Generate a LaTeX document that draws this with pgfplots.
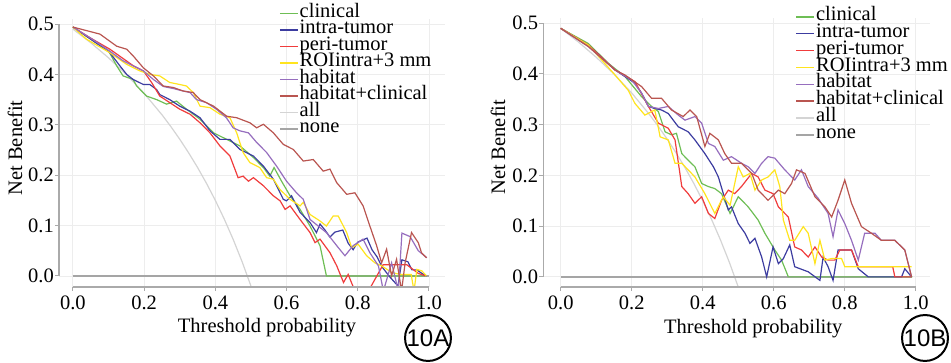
\documentclass[border=0pt]{standalone}
\usepackage{fontspec}
\setmainfont{Liberation Serif}
\setsansfont{Liberation Sans}
\usepackage{pgfplots}
\pgfplotsset{compat=1.18}
\definecolor{cClin}{RGB}{110,190,85}
\definecolor{cIntra}{RGB}{60,60,160}
\definecolor{cPeri}{RGB}{240,60,60}
\definecolor{cROI}{RGB}{255,228,30}
\definecolor{cHab}{RGB}{150,110,190}
\definecolor{cHC}{RGB}{185,85,80}
\definecolor{cAll}{RGB}{212,212,212}
\definecolor{cNone}{RGB}{165,165,165}
\definecolor{cAxis}{RGB}{170,170,170}
\newcommand{\fs}{\fontsize{20.5}{22}\selectfont}
\pgfplotsset{
  dca/.style={
    scale only axis, width=386pt, height=268pt,
    xmin=-0.039, xmax=1.045, ymin=-0.022, ymax=0.51,
    axis line style={draw=none},
    clip mode=individual,
    tick align=outside, xtick pos=bottom, ytick pos=left,
    xtick={0,0.2,0.4,0.6,0.8,1}, ytick={0,0.1,0.2,0.3,0.4,0.5},
    major tick length=4pt, tick style={draw=cAxis, line width=1pt},
    grid=major, major grid style={draw=black!7, line width=0.8pt},
    /pgf/number format/assume math mode=true,
    xticklabel={\pgfmathprintnumber[fixed,fixed zerofill,precision=1]{\tick}},
    yticklabel={\pgfmathprintnumber[fixed,fixed zerofill,precision=1]{\tick}},
    tick label style={font=\fs},
    yticklabel style={inner sep=1pt},
    xticklabel style={inner sep=1pt, yshift=-4pt},
    label style={font=\fs},
    xlabel={Threshold probability}, ylabel={Net Benefit},
    legend style={draw=none, fill=none, anchor=north west, font=\fs,
      cells={anchor=west}, row sep=0pt, column sep=1pt,
      nodes={inner sep=0pt, text height=12pt, text depth=4.5pt}},
    legend image code/.code={\draw[#1, line width=1.6pt] (0pt,0pt) -- (18pt,0pt);},
    every axis plot/.append style={line width=1.2pt},
  }
}
\begin{document}
\begin{tikzpicture}
\useasboundingbox (0,0) rectangle (951pt,363pt);
% ---------------- Panel A
\begin{axis}[dca, at={(59pt,76pt)}, anchor=south west,
  xlabel style={at={(axis description cs:0.539,-0.153)}, anchor=center},
  ylabel style={at={(axis description cs:-0.114,0.519)}, anchor=center},
  legend style={at={(0.562,1.06)}}]
\addplot[cAll, forget plot] coordinates {(0,0.49)(0.05,0.463)(0.1,0.433)(0.15,0.40)(0.2,0.3625)(0.25,0.32)(0.275,0.2966)(0.3,0.2714)(0.325,0.2444)(0.35,0.2154)(0.375,0.184)(0.4,0.15)(0.425,0.113)(0.45,0.0727)(0.475,0.0286)(0.5,-0.02)};
\addplot[cNone, line width=1.5pt, forget plot] coordinates {(0,0)(1,0)};
\addplot[cClin] coordinates {(0,0.494)(0.05,0.47)(0.1,0.447)(0.123,0.417)(0.141,0.397)(0.169,0.39)(0.179,0.377)(0.207,0.357)(0.235,0.35)(0.263,0.341)(0.291,0.347)(0.319,0.331)(0.357,0.311)(0.395,0.284)(0.432,0.271)(0.469,0.258)(0.507,0.235)(0.535,0.215)(0.553,0.198)(0.565,0.215)(0.586,0.188)(0.61,0.159)(0.638,0.132)(0.666,0.099)(0.694,0.06)(0.712,0)(0.99,0)};
\addlegendentry{clinical}
\addplot[cIntra] coordinates {(0,0.494)(0.05,0.47)(0.104,0.443)(0.132,0.417)(0.151,0.40)(0.169,0.39)(0.198,0.38)(0.216,0.38)(0.235,0.37)(0.244,0.36)(0.272,0.35)(0.3,0.337)(0.329,0.327)(0.357,0.314)(0.385,0.288)(0.413,0.271)(0.441,0.271)(0.469,0.251)(0.507,0.238)(0.535,0.218)(0.563,0.192)(0.591,0.152)(0.6,0.149)(0.614,0.159)(0.638,0.126)(0.666,0.106)(0.684,0.086)(0.694,0.103)(0.708,0.091)(0.722,0.077)(0.736,0.087)(0.758,0.091)(0.773,0.065)(0.787,0.052)(0.80,0.067)(0.826,0.075)(0.84,0.052)(0.854,0.038)(0.868,0.018)(0.89,-0.002)(0.913,-0.02)(0.924,0.032)(0.941,0.028)(0.952,0.012)(0.966,0.012)(0.98,0.005)(0.994,0)};
\addlegendentry{intra-tumor}
\addplot[cPeri] coordinates {(0,0.494)(0.05,0.472)(0.104,0.45)(0.17,0.417)(0.198,0.407)(0.221,0.384)(0.244,0.357)(0.272,0.344)(0.3,0.331)(0.329,0.321)(0.357,0.304)(0.385,0.284)(0.413,0.258)(0.441,0.238)(0.464,0.195)(0.478,0.198)(0.493,0.188)(0.507,0.195)(0.535,0.179)(0.563,0.159)(0.582,0.149)(0.596,0.132)(0.61,0.139)(0.638,0.112)(0.666,0.086)(0.68,0.066)(0.694,0.073)(0.722,0.046)(0.741,0.02)(0.76,-0.013)(0.773,0.003)(0.792,-0.03)(0.83,-0.03)(0.871,0.022)(0.938,0.022)(0.97,0.005)(0.99,0)};
\addlegendentry{peri-tumor}
\addplot[cROI] coordinates {(0,0.494)(0.038,0.47)(0.104,0.443)(0.151,0.42)(0.188,0.407)(0.216,0.40)(0.244,0.397)(0.272,0.384)(0.3,0.38)(0.319,0.377)(0.338,0.364)(0.357,0.337)(0.385,0.334)(0.413,0.321)(0.441,0.314)(0.46,0.284)(0.478,0.245)(0.497,0.225)(0.525,0.215)(0.544,0.195)(0.563,0.192)(0.581,0.172)(0.61,0.152)(0.638,0.139)(0.647,0.146)(0.666,0.122)(0.694,0.109)(0.712,0.099)(0.731,0.119)(0.745,0.119)(0.769,0.086)(0.783,0.056)(0.801,0.063)(0.825,0.04)(0.848,0.026)(0.867,0.02)(0.895,0.007)(0.918,0.003)(0.95,0.003)(0.958,-0.03)(0.966,0.013)(0.98,0.01)(0.993,0)};
\addlegendentry{ROIintra+3 mm}
\addplot[cHab] coordinates {(0,0.494)(0.05,0.472)(0.104,0.446)(0.141,0.427)(0.169,0.417)(0.198,0.407)(0.226,0.39)(0.254,0.376)(0.282,0.372)(0.31,0.367)(0.329,0.364)(0.347,0.35)(0.375,0.344)(0.403,0.331)(0.431,0.314)(0.45,0.294)(0.469,0.288)(0.493,0.284)(0.516,0.265)(0.544,0.245)(0.572,0.218)(0.6,0.188)(0.628,0.165)(0.647,0.152)(0.666,0.112)(0.689,0.099)(0.712,0.086)(0.741,0.06)(0.764,0.04)(0.787,0.06)(0.815,0.073)(0.834,0.046)(0.858,0.02)(0.872,-0.03)(0.895,0.026)(0.914,-0.03)(0.924,0.085)(0.947,0.078)(0.97,0.05)(0.994,0.036)};
\addlegendentry{habitat}
\addplot[cHC] coordinates {(0,0.494)(0.076,0.48)(0.123,0.456)(0.151,0.45)(0.169,0.437)(0.198,0.413)(0.226,0.397)(0.254,0.377)(0.282,0.374)(0.31,0.367)(0.338,0.364)(0.357,0.35)(0.395,0.337)(0.432,0.317)(0.46,0.314)(0.497,0.304)(0.516,0.294)(0.535,0.301)(0.563,0.284)(0.591,0.261)(0.619,0.251)(0.647,0.228)(0.675,0.231)(0.703,0.208)(0.722,0.212)(0.741,0.185)(0.769,0.162)(0.792,0.165)(0.815,0.139)(0.834,0.099)(0.853,0.06)(0.867,0.026)(0.881,0.053)(0.895,0)(0.909,0.033)(0.923,-0.03)(0.933,0.026)(0.951,0.086)(0.97,0.066)(0.979,0.046)(0.993,0.036)};
\addlegendentry{habitat+clinical}
\addlegendimage{cAll}
\addlegendentry{all}
\addlegendimage{cNone}
\addlegendentry{none}
\draw[cAxis, line width=1.5pt] (axis cs:0,-0.022) -- (axis cs:1,-0.022);
\draw[cAxis, line width=1.5pt] (axis cs:-0.039,0) -- (axis cs:-0.039,0.5);
\end{axis}
% ---------------- Panel B
\begin{axis}[dca, at={(543.3pt,76pt)}, anchor=south west,
  width=386.7pt, height=268.8pt, xmin=-0.049, xmax=1.04, ymin=-0.020, ymax=0.51,
  xlabel style={at={(axis description cs:0.543,-0.153)}, anchor=center},
  ylabel style={at={(axis description cs:-0.117,0.52)}, anchor=center},
  legend style={at={(0.644,1.045)}, nodes={inner sep=0pt, text height=12pt, text depth=4.9pt}}]
\addplot[cAll, forget plot] coordinates {(0,0.49)(0.05,0.463)(0.1,0.433)(0.15,0.40)(0.2,0.3625)(0.25,0.32)(0.275,0.2966)(0.3,0.2714)(0.325,0.2444)(0.35,0.2154)(0.375,0.184)(0.4,0.15)(0.425,0.113)(0.45,0.0727)(0.475,0.0286)(0.5,-0.02)};
\addplot[cNone, line width=1.5pt, forget plot] coordinates {(0,0)(0.99,0)};
\addplot[cClin] coordinates {(0,0.49)(0.078,0.46)(0.134,0.421)(0.181,0.395)(0.228,0.355)(0.256,0.336)(0.275,0.326)(0.294,0.286)(0.312,0.28)(0.326,0.283)(0.341,0.243)(0.359,0.23)(0.378,0.217)(0.397,0.184)(0.416,0.178)(0.434,0.174)(0.453,0.164)(0.477,0.125)(0.5,0.158)(0.528,0.138)(0.556,0.112)(0.575,0.086)(0.603,0.053)(0.622,0.033)(0.641,0)(0.99,0)};
\addlegendentry{clinical}
\addplot[cIntra] coordinates {(0,0.49)(0.078,0.457)(0.153,0.408)(0.209,0.382)(0.228,0.362)(0.247,0.336)(0.265,0.332)(0.284,0.329)(0.303,0.322)(0.331,0.296)(0.359,0.286)(0.378,0.27)(0.406,0.243)(0.43,0.217)(0.444,0.197)(0.458,0.164)(0.472,0.132)(0.481,0.138)(0.5,0.105)(0.519,0.086)(0.533,0.066)(0.547,0.076)(0.566,0.039)(0.58,0)(0.598,0.059)(0.613,0.026)(0.627,0.036)(0.645,0.063)(0.659,0.02)(0.674,0.016)(0.697,0.01)(0.73,-0.007)(0.739,0.039)(0.753,0.02)(0.767,-0.007)(0.781,0.053)(0.819,0.053)(0.838,0.016)(0.866,0)(0.96,0)(0.969,0.016)(0.988,0)};
\addlegendentry{intra-tumor}
\addplot[cPeri] coordinates {(0,0.49)(0.078,0.457)(0.153,0.408)(0.209,0.385)(0.247,0.336)(0.275,0.303)(0.303,0.293)(0.322,0.27)(0.341,0.178)(0.359,0.164)(0.378,0.145)(0.397,0.158)(0.416,0.125)(0.434,0.115)(0.453,0.151)(0.472,0.171)(0.49,0.164)(0.509,0.178)(0.538,0.204)(0.556,0.197)(0.575,0.171)(0.598,0.164)(0.613,0.138)(0.641,0.118)(0.659,0.059)(0.678,0.053)(0.697,0.039)(0.716,0.059)(0.735,0.039)(0.753,0.033)(0.772,0.033)(0.786,0.053)(0.819,0.053)(0.838,0.02)(0.935,0.02)(0.941,0)(0.988,0)};
\addlegendentry{peri-tumor}
\addplot[cROI] coordinates {(0,0.49)(0.078,0.457)(0.153,0.398)(0.19,0.368)(0.209,0.342)(0.237,0.319)(0.265,0.329)(0.28,0.276)(0.303,0.27)(0.322,0.224)(0.341,0.224)(0.378,0.197)(0.406,0.164)(0.434,0.125)(0.458,0.158)(0.477,0.141)(0.5,0.217)(0.514,0.197)(0.533,0.204)(0.547,0.171)(0.566,0.191)(0.584,0.197)(0.603,0.211)(0.617,0.178)(0.627,0.112)(0.645,0.072)(0.659,0.072)(0.683,0.099)(0.697,0.086)(0.716,0.026)(0.73,0.072)(0.744,0.033)(0.763,0.036)(0.791,0.036)(0.8,0.02)(0.988,0.02)};
\addlegendentry{ROIintra+3 mm}
\addplot[cHab] coordinates {(0,0.49)(0.078,0.454)(0.153,0.408)(0.2,0.388)(0.228,0.362)(0.247,0.336)(0.275,0.332)(0.303,0.336)(0.331,0.319)(0.35,0.309)(0.378,0.316)(0.397,0.303)(0.416,0.263)(0.434,0.257)(0.458,0.23)(0.481,0.237)(0.509,0.224)(0.528,0.217)(0.547,0.204)(0.566,0.224)(0.584,0.237)(0.603,0.234)(0.631,0.211)(0.659,0.191)(0.678,0.211)(0.697,0.178)(0.725,0.155)(0.753,0.125)(0.767,0.079)(0.781,0.132)(0.8,0.105)(0.819,0.072)(0.838,0.033)(0.856,0.086)(0.885,0.086)(0.903,0.072)(0.941,0.072)(0.969,0.053)(0.988,0)};
\addlegendentry{habitat}
\addplot[cHC] coordinates {(0,0.49)(0.078,0.454)(0.153,0.408)(0.181,0.398)(0.228,0.375)(0.256,0.352)(0.284,0.352)(0.312,0.329)(0.345,0.316)(0.364,0.329)(0.383,0.316)(0.406,0.257)(0.42,0.283)(0.444,0.27)(0.462,0.243)(0.481,0.224)(0.509,0.224)(0.538,0.204)(0.556,0.171)(0.584,0.151)(0.613,0.171)(0.631,0.164)(0.65,0.184)(0.664,0.211)(0.688,0.204)(0.716,0.158)(0.744,0.138)(0.763,0.118)(0.781,0.151)(0.8,0.191)(0.819,0.145)(0.847,0.099)(0.875,0.086)(0.903,0.072)(0.941,0.072)(0.969,0.053)(0.988,0)};
\addlegendentry{habitat+clinical}
\addlegendimage{cAll}
\addlegendentry{all}
\addlegendimage{cNone}
\addlegendentry{none}
\draw[cAxis, line width=1.5pt] (axis cs:0,-0.020) -- (axis cs:1,-0.020);
\draw[cAxis, line width=1.5pt] (axis cs:-0.049,0) -- (axis cs:-0.049,0.5);
\end{axis}
\node[draw, circle, line width=2pt, minimum size=44pt, inner sep=0pt, font=\sffamily\fontsize{24}{24}\selectfont] at (428pt,25pt) {10A};
\node[draw, circle, line width=2pt, minimum size=44pt, inner sep=0pt, font=\sffamily\fontsize{24}{24}\selectfont] at (925pt,25pt) {10B};
\end{tikzpicture}
\end{document}
